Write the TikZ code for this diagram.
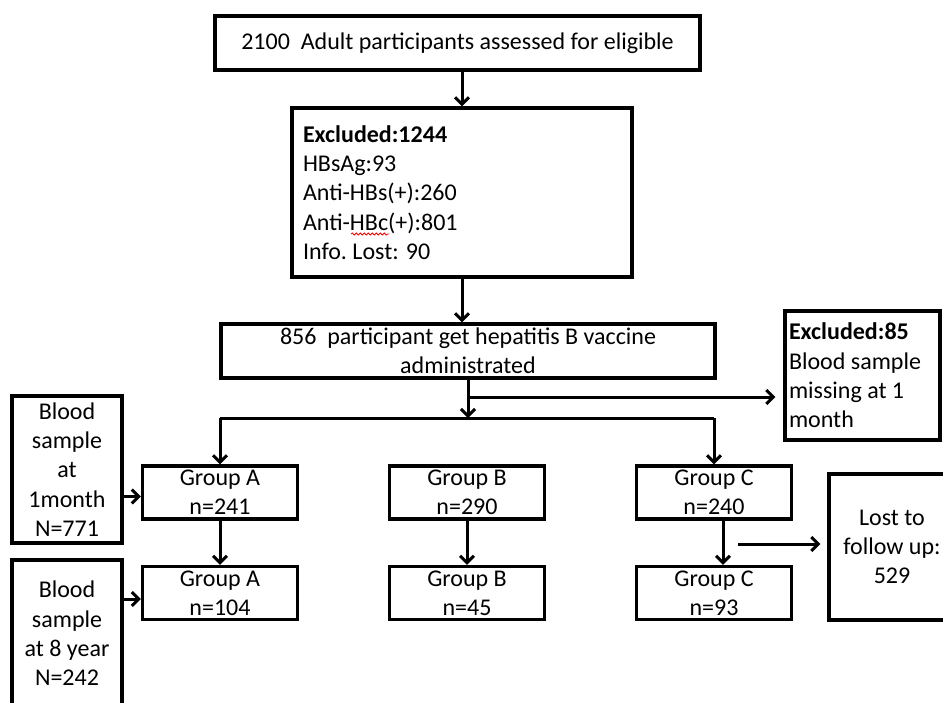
\documentclass[tikz,border=0pt]{standalone}
\usepackage{fontspec}
\setmainfont{Carlito}
\usetikzlibrary{arrows.meta,decorations.pathmorphing}

\begin{document}
\begin{tikzpicture}[x=1pt,y=-1pt,>={Straight Barb[length=7pt,width=14pt,line width=3pt]},line width=3pt,
  box/.style={draw,line width=3.2pt,inner xsep=4pt,inner ysep=0pt,align=center,font=\fontsize{24}{29.3}\selectfont},
  grp/.style={box,minimum width=155pt,minimum height=53pt}]
\useasboundingbox (0,0) rectangle (943,702);
\clip (0,0) rectangle (943,702);
% main column
\node[box,minimum width=485pt,minimum height=54pt] (adult) at (457.5,43) {2100\ \ Adult participants assessed for eligible};
\node[box,align=flush left,text width=318pt,inner xsep=11pt,minimum height=169pt] (excl) at (462,192.5) {\textbf{Excluded:1244}\\HBsAg:93\\Anti-HBs(+):260\\Anti-HBc(+):801\\Info.\ Lost: 90};
\node[box,minimum width=494pt,minimum height=54pt] (vacc) at (468,351) {856\ \ participant get hepatitis B vaccine\\administrated};
\node[box,align=flush left,text width=147pt,minimum height=129pt] (miss) at (862.5,375.5) {\textbf{Excluded:85}\\Blood sample\\missing at 1\\month};
% groups
\node[grp] (grpA) at (220,492.5) {Group A\\n=241};
\node[grp] (grpA2) at (220,593) {Group A\\n=104};
\node[grp] (grpB) at (467,492.5) {Group B\\n=290};
\node[grp] (grpB2) at (467,593) {Group B\\n=45};
\node[grp] (grpC) at (714,492.5) {Group C\\n=240};
\node[grp] (grpC2) at (714,593) {Group C\\n=93};
% side boxes
\node[box,minimum width=110pt,minimum height=147pt] (blood1) at (67,469.5) {Blood\\sample\\at\\1month\\N=771};
\node[box,minimum width=110pt,minimum height=147pt] (blood8) at (67,633.5) {Blood\\sample\\at 8 year\\N=242};
\node[box,minimum width=126pt,minimum height=146pt] (lost) at (892,547) {Lost to\\follow up:\\529};
% connectors
\coordinate (split) at (468,397);
\coordinate (bar) at (468,418);
\coordinate (lostfrom) at (738,544);
\draw[->] (adult.south -| excl.north) -- (excl.north);
\draw[->] (excl.south) -- (excl.south |- vacc.north);
\draw (vacc.south) -- (split);
\draw[->] (split) -- (bar);
\draw[->,shorten >=8pt] (split) -- (split -| miss.west);
\draw (bar -| grpA) -- (bar -| grpC);
\draw[->] (bar -| grpA) -- (grpA.north);
\draw[->] (bar -| grpC) -- (grpC.north);
\draw[->] (grpA) -- (grpA2);
\draw[->] (grpB) -- (grpB2);
\draw[->] ([xshift=9pt]grpC.south) -- ([xshift=9pt]grpC2.north);
\draw[->] ([yshift=-4pt]grpA.west -| blood1.east) -- ([yshift=-4pt]grpA.west);
\draw[->] ([yshift=-6pt]grpA2.west -| blood8.east) -- ([yshift=-6pt]grpA2.west);
\draw[->,shorten >=7pt] (lostfrom) -- (lostfrom -| lost.west);
% spelling mark
\draw[red,line width=0.8pt,decorate,decoration={snake,amplitude=1pt,segment length=4pt}] (351,234) -- (389,234);
\end{tikzpicture}
\end{document}
